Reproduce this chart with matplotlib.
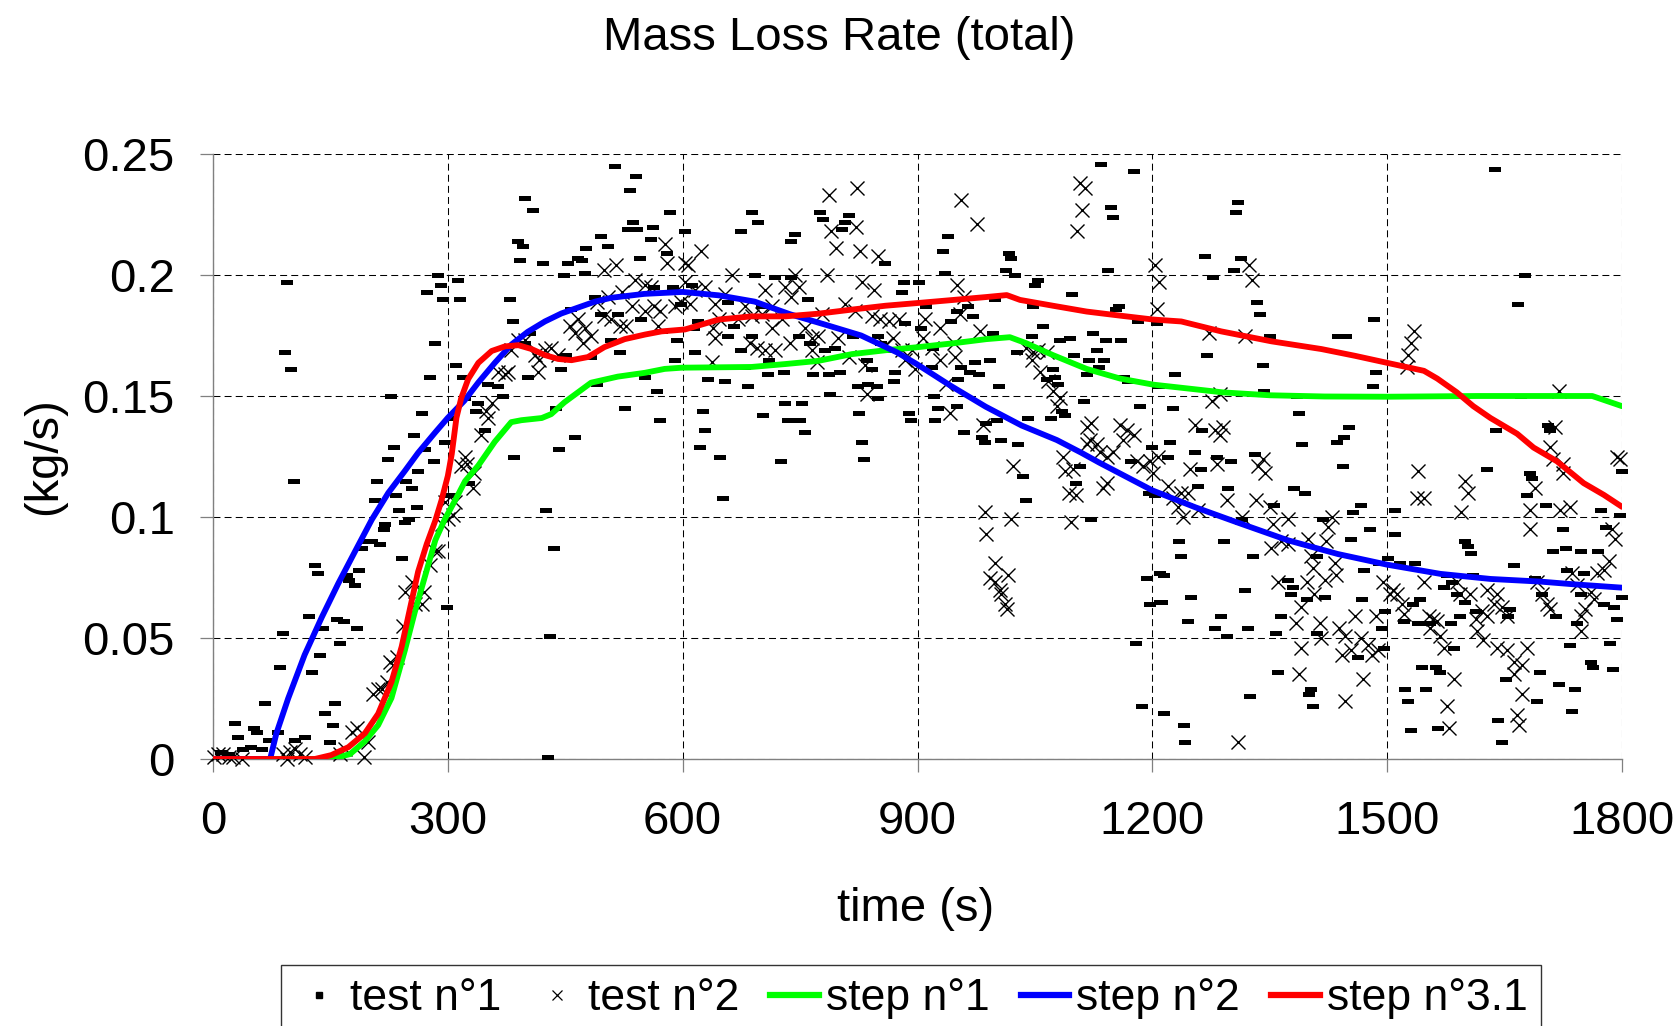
import matplotlib
matplotlib.use("Agg")
import matplotlib.pyplot as plt
from matplotlib.lines import Line2D

plt.rcParams['font.family'] = ['Liberation Sans', 'DejaVu Sans']
plt.rcParams['lines.scale_dashes'] = False

# ---------------- data ----------------
title = "Mass Loss Rate (total)"
x_label = "time (s)"
y_label = "(kg/s)"
x_ticks = [0, 300, 600, 900, 1200, 1500, 1800]
y_ticks = [0, 0.05, 0.1, 0.15, 0.2, 0.25]
y_tick_labels = ["0", "0.05", "0.1", "0.15", "0.2", "0.25"]
series_names = ["test n°1", "test n°2", "step n°1", "step n°2", "step n°3.1"]

test1_t = [10, 20, 38,
    95, 92, 100, 103, 89, 86, 66, 28, 32, 52, 56, 49, 62, 72, 83, 105, 117, 150, 153, 143, 156, 126, 137, 123, 140,
    159, 167, 162, 184, 130, 134, 171, 174, 187, 181, 190, 203, 213, 194, 218, 220, 241, 207, 210, 223, 231, 234,
    238, 245, 250, 247, 254, 261, 262, 271, 282, 257, 267, 296, 228, 277, 284, 274, 287, 291, 294, 299, 301,
    513, 540, 533, 398, 409, 389, 396, 392, 421, 454, 466, 471, 477, 496, 504, 475, 448, 536, 530, 542, 562, 559,
    584, 603, 546, 580, 313, 316, 379, 383, 405, 457, 488, 310, 320, 322, 305, 339, 336, 347, 351, 364, 370, 402,
    445, 483, 520, 509, 574, 593, 590, 552, 567, 490, 526, 571, 438, 462, 442, 385, 327, 305, 425, 436, 431, 428,
    398, 451, 496, 517, 547, 564, 588, 598,
    603, 689, 696, 674, 744, 738, 776, 779, 812, 807, 804, 858, 692, 718, 739, 760, 883, 902, 880, 612, 620, 658,
    658, 616, 614, 665, 675, 688, 701, 710, 748, 763, 782, 795, 818, 835, 850, 854, 867, 884, 905, 667, 680, 632,
    654, 683, 709, 729, 766, 787, 801, 837, 848, 824, 842, 871, 870, 849, 788, 626, 629, 622, 648, 651, 702, 731,
    753, 734, 750, 756, 725, 825, 829, 832, 889, 892,
    1135, 1176, 1147, 1150, 1144, 939, 933, 935, 1017, 1020, 1013, 1024, 1054, 1050, 1098, 999, 911, 964, 971, 950,
    943, 1048, 1153, 1157, 1182, 1206, 1060, 1046, 996, 1082, 1095, 1100, 1124, 1141, 1160, 1129, 1138, 1119, 1132,
    1027, 992, 973, 956, 967, 979, 952, 918, 920, 1004, 1073, 1076, 1079, 1065, 1116, 1164, 1169, 1209, 921, 926,
    922, 950, 1113, 1184, 1070, 1085, 1089, 1041, 987, 1001, 960, 982, 986, 1007, 1029, 1035, 1038, 1107, 1103,
    1122, 1200, 1173, 1196, 1203, 1193, 1197, 1210, 1210, 1179, 1187, 1215,
    1310, 1307, 1267, 1277, 1313, 1304, 1334, 1337, 1350, 1270, 1229, 1342, 1343, 1437, 1448, 1483, 1486, 1482,
    1385, 1388, 1227, 1223, 1220, 1255, 1264, 1282, 1301, 1331, 1262, 1258, 1297, 1381, 1395, 1391, 1436, 1445,
    1451, 1443, 1355, 1315, 1292, 1329, 1234, 1237, 1215, 1212, 1249, 1245, 1288, 1280, 1295, 1322, 1319, 1365,
    1358, 1373, 1380, 1377, 1397, 1411, 1420, 1410, 1418, 1456, 1466, 1478, 1454, 1471, 1468, 1497, 1493, 1463,
    1496, 1361, 1325, 1403, 1400, 1405, 1240, 1242, 1510, 1510, 1501, 1490,
    1638, 1676, 1667, 1671, 1639, 1708, 1706, 1628, 1683, 1685, 1800, 1679, 1703, 1773, 1797, 1725, 1779, 1599,
    1603, 1607, 1712, 1728, 1748, 1769, 1517, 1536, 1662, 1730, 1751, 1576, 1610, 1689, 1583, 1572, 1589, 1542,
    1533, 1600, 1698, 1747, 1777, 1790, 1794, 1657, 1655, 1613, 1593, 1582, 1521, 1539, 1555, 1716, 1743, 1734,
    1785, 1586, 1545, 1562, 1568, 1760, 1763, 1788, 1695, 1652, 1523, 1550, 1527, 1719, 1740, 1691, 1736, 1530,
    1565, 1642, 1647, 1800]
test1_v = [0.003, 0.002, 0.004,
    0.197, 0.168, 0.161, 0.115, 0.052, 0.038, 0.023, 0.015, 0.009, 0.013, 0.011, 0.005, 0.004, 0.008, 0.011, 0.008,
    0.009, 0.007, 0.014, 0.019, 0.023, 0.036, 0.043, 0.059, 0.054, 0.058, 0.057, 0.048, 0.054, 0.080, 0.077, 0.076,
    0.074, 0.078, 0.072, 0.087, 0.090, 0.089, 0.090, 0.095, 0.097, 0.083, 0.107, 0.115, 0.124, 0.129, 0.109, 0.103,
    0.098, 0.099, 0.115, 0.112, 0.104, 0.119, 0.128, 0.123, 0.134, 0.143, 0.131, 0.150, 0.158, 0.172, 0.193, 0.200,
    0.196, 0.190, 0.063, 0.109,
    0.245, 0.241, 0.235, 0.232, 0.227, 0.214, 0.212, 0.206, 0.205, 0.205, 0.207, 0.206, 0.211, 0.216, 0.212, 0.201,
    0.200, 0.222, 0.219, 0.219, 0.220, 0.215, 0.226, 0.218, 0.207, 0.209, 0.198, 0.190, 0.190, 0.181, 0.176, 0.186,
    0.191, 0.163, 0.158, 0.149, 0.141, 0.147, 0.144, 0.136, 0.155, 0.154, 0.150, 0.158, 0.161, 0.166, 0.168, 0.173,
    0.177, 0.173, 0.165, 0.158, 0.152, 0.155, 0.145, 0.140, 0.145, 0.133, 0.128, 0.125, 0.114, 0.109, 0.103, 0.087,
    0.051, 0.001, 0.172, 0.167, 0.184, 0.184, 0.182, 0.195, 0.195, 0.188,
    0.218, 0.226, 0.222, 0.218, 0.217, 0.214, 0.226, 0.223, 0.225, 0.222, 0.219, 0.205, 0.200, 0.199, 0.199, 0.190,
    0.197, 0.197, 0.193, 0.196, 0.181, 0.189, 0.175, 0.168, 0.178, 0.179, 0.169, 0.175, 0.187, 0.165, 0.175, 0.172,
    0.169, 0.170, 0.175, 0.165, 0.175, 0.172, 0.169, 0.180, 0.178, 0.162, 0.162, 0.157, 0.156, 0.154, 0.159, 0.160,
    0.159, 0.159, 0.160, 0.155, 0.154, 0.154, 0.161, 0.160, 0.156, 0.149, 0.151, 0.144, 0.136, 0.129, 0.125, 0.108,
    0.142, 0.147, 0.147, 0.140, 0.140, 0.135, 0.123, 0.143, 0.131, 0.124, 0.143, 0.140,
    0.246, 0.243, 0.228, 0.224, 0.202, 0.216, 0.210, 0.201, 0.209, 0.207, 0.202, 0.200, 0.198, 0.196, 0.192, 0.190,
    0.187, 0.187, 0.183, 0.185, 0.181, 0.187, 0.186, 0.187, 0.181, 0.180, 0.179, 0.175, 0.176, 0.173, 0.174, 0.167,
    0.176, 0.173, 0.173, 0.169, 0.165, 0.165, 0.162, 0.168, 0.165, 0.164, 0.162, 0.160, 0.159, 0.157, 0.162, 0.170,
    0.154, 0.161, 0.158, 0.155, 0.157, 0.159, 0.158, 0.156, 0.154, 0.150, 0.145, 0.140, 0.146, 0.148, 0.146, 0.141,
    0.144, 0.142, 0.141, 0.139, 0.140, 0.135, 0.133, 0.131, 0.132, 0.130, 0.117, 0.107, 0.121, 0.114, 0.099, 0.129,
    0.123, 0.110, 0.109, 0.075, 0.064, 0.077, 0.065, 0.048, 0.022, 0.019,
    0.230, 0.226, 0.208, 0.199, 0.207, 0.202, 0.189, 0.184, 0.175, 0.167, 0.159, 0.163, 0.152, 0.175, 0.175, 0.182,
    0.160, 0.154, 0.150, 0.143, 0.145, 0.131, 0.125, 0.127, 0.136, 0.125, 0.123, 0.126, 0.120, 0.113, 0.112, 0.112,
    0.110, 0.130, 0.131, 0.133, 0.137, 0.121, 0.105, 0.099, 0.090, 0.084, 0.090, 0.084, 0.076, 0.065, 0.067, 0.057,
    0.059, 0.054, 0.051, 0.054, 0.070, 0.059, 0.052, 0.074, 0.071, 0.068, 0.066, 0.084, 0.067, 0.052, 0.099, 0.102,
    0.105, 0.095, 0.091, 0.078, 0.066, 0.061, 0.054, 0.042, 0.046, 0.036, 0.026, 0.029, 0.027, 0.022, 0.014, 0.007,
    0.103, 0.093, 0.083, 0.081,
    0.244, 0.200, 0.188, 0.150, 0.136, 0.136, 0.138, 0.120, 0.118, 0.116, 0.119, 0.109, 0.105, 0.103, 0.101, 0.095,
    0.096, 0.090, 0.088, 0.085, 0.086, 0.087, 0.086, 0.086, 0.081, 0.081, 0.080, 0.078, 0.077, 0.076, 0.076, 0.075,
    0.073, 0.071, 0.068, 0.066, 0.064, 0.065, 0.068, 0.068, 0.064, 0.063, 0.058, 0.062, 0.059, 0.061, 0.059, 0.056,
    0.057, 0.056, 0.056, 0.059, 0.056, 0.047, 0.048, 0.046, 0.038, 0.038, 0.036, 0.040, 0.038, 0.037, 0.036, 0.033,
    0.029, 0.029, 0.024, 0.031, 0.029, 0.024, 0.020, 0.012, 0.013, 0.016, 0.007, 0.067]

test2_t = [1, 7, 13, 20, 26, 37, 90, 98, 105, 111, 118, 94, 162, 169, 177, 184, 193, 198, 205, 211, 216, 222, 226,
    235, 230, 243, 245, 254, 258, 267, 269, 277, 284, 288, 293, 296, 300,
    500, 515, 577, 580, 603, 539, 552, 560, 603, 522, 505, 490, 466, 456, 462, 475, 483, 473, 500, 509, 520, 528,
    535, 552, 564, 571, 590, 598, 569, 390, 398, 381, 411, 417, 424, 432, 441, 415, 364, 373, 377, 356, 349, 351,
    343, 322, 324, 317, 334, 332, 309, 307,
    787, 823, 790, 796, 821, 827, 849, 623, 607, 785, 829, 844, 663, 744, 705, 731, 748, 739, 654, 616, 629, 609,
    641, 680, 714, 671, 688, 646, 639, 641, 701, 727, 714, 737, 686, 695, 705, 718, 756, 765, 773, 778, 807, 820,
    799, 812, 765, 771, 842, 852, 863, 876, 859, 869, 880, 893, 884, 897, 833, 637, 835, 910,
    956, 976, 1107, 1114, 1110, 1104, 1203, 1209, 1206, 951, 960, 954, 929, 980, 907, 918, 929, 946, 948, 937,
    941, 984, 1039, 1048, 1054, 1065, 1046, 1056, 1067, 1073, 1082, 1078, 1116, 1122, 1120, 1129, 1133, 1116,
    1142, 1150, 1159, 1167, 1163, 1176, 1180, 1188, 1197, 1201, 1086, 1088, 1099, 1093, 1103, 1142, 1137, 1096,
    1022, 1020, 986, 988, 999, 992, 999, 1005, 1016, 1012, 1014, 1007,
    1324, 1327, 1272, 1318, 1286, 1276, 1254, 1280, 1290, 1286, 1341, 1344, 1335, 1248, 1282, 1207, 1220, 1226,
    1237, 1246, 1233, 1239, 1258, 1295, 1333, 1350, 1314, 1354, 1373, 1365, 1373, 1352, 1399, 1422, 1429, 1424,
    1403, 1405, 1433, 1435, 1420, 1361, 1397, 1407, 1390, 1384, 1390, 1414, 1416, 1388, 1439, 1446, 1442, 1454,
    1459, 1467, 1476, 1480, 1488, 1486, 1495, 1503, 1469, 1446, 1310,
    1534, 1530, 1527, 1525, 1719, 1715, 1708, 1712, 1725, 1725, 1539, 1600, 1603, 1538, 1547, 1594, 1689, 1683,
    1682, 1734, 1721, 1794, 1798, 1787, 1791, 1783, 1777, 1768, 1736, 1743, 1760, 1764, 1753, 1747, 1747, 1691,
    1698, 1704, 1708, 1547, 1508, 1513, 1519, 1521, 1589, 1593, 1606, 1628, 1640, 1647, 1653, 1636, 1621, 1628,
    1613, 1615, 1623, 1553, 1559, 1564, 1555, 1568, 1572, 1640, 1653, 1679, 1662, 1672, 1662, 1585, 1672, 1576,
    1579, 1666, 1668]
test2_v = [0.001, 0.002, 0.002, 0.001, 0.001, 0.000, 0.002, 0.003, 0.004, 0.002, 0.001, 0.000, 0.002, 0.004, 0.011,
    0.013, 0.001, 0.007, 0.027, 0.029, 0.029, 0.032, 0.040, 0.042, 0.039, 0.055, 0.069, 0.073, 0.064, 0.064, 0.069,
    0.080, 0.086, 0.086, 0.097, 0.106, 0.099,
    0.202, 0.204, 0.213, 0.205, 0.205, 0.198, 0.196, 0.195, 0.197, 0.193, 0.191, 0.189, 0.182, 0.179, 0.176, 0.178,
    0.175, 0.172, 0.183, 0.182, 0.179, 0.179, 0.187, 0.185, 0.187, 0.185, 0.187, 0.189, 0.179, 0.173, 0.173, 0.169,
    0.167, 0.165, 0.169, 0.170, 0.167, 0.160, 0.160, 0.159, 0.160, 0.147, 0.144, 0.141, 0.134, 0.125, 0.122, 0.121,
    0.118, 0.112, 0.106, 0.101,
    0.233, 0.236, 0.218, 0.211, 0.220, 0.210, 0.208, 0.210, 0.204, 0.200, 0.197, 0.194, 0.200, 0.200, 0.194, 0.195,
    0.195, 0.191, 0.192, 0.194, 0.195, 0.188, 0.188, 0.187, 0.187, 0.182, 0.183, 0.182, 0.178, 0.174, 0.184, 0.182,
    0.178, 0.172, 0.172, 0.170, 0.169, 0.169, 0.178, 0.174, 0.175, 0.184, 0.188, 0.185, 0.174, 0.166, 0.169, 0.164,
    0.183, 0.182, 0.181, 0.182, 0.171, 0.174, 0.169, 0.169, 0.165, 0.161, 0.163, 0.164, 0.151, 0.182,
    0.231, 0.221, 0.238, 0.236, 0.227, 0.218, 0.204, 0.197, 0.186, 0.196, 0.191, 0.184, 0.178, 0.177, 0.174, 0.170,
    0.165, 0.172, 0.166, 0.155, 0.143, 0.138, 0.170, 0.168, 0.169, 0.168, 0.165, 0.160, 0.156, 0.152, 0.149, 0.146,
    0.137, 0.139, 0.132, 0.130, 0.127, 0.130, 0.125, 0.127, 0.138, 0.136, 0.132, 0.134, 0.123, 0.121, 0.123, 0.118,
    0.125, 0.119, 0.120, 0.110, 0.109, 0.114, 0.112, 0.098, 0.121, 0.099, 0.102, 0.093, 0.081, 0.075, 0.073, 0.070,
    0.076, 0.064, 0.062, 0.068,
    0.204, 0.198, 0.176, 0.175, 0.151, 0.148, 0.138, 0.136, 0.137, 0.134, 0.124, 0.118, 0.121, 0.120, 0.122, 0.125,
    0.113, 0.108, 0.110, 0.110, 0.104, 0.100, 0.103, 0.107, 0.107, 0.104, 0.100, 0.097, 0.099, 0.090, 0.089, 0.087,
    0.091, 0.090, 0.100, 0.096, 0.084, 0.079, 0.081, 0.076, 0.074, 0.073, 0.073, 0.068, 0.063, 0.056, 0.046, 0.056,
    0.050, 0.035, 0.054, 0.051, 0.043, 0.045, 0.059, 0.050, 0.047, 0.043, 0.045, 0.059, 0.073, 0.068, 0.033, 0.024,
    0.007,
    0.177, 0.172, 0.167, 0.162, 0.152, 0.137, 0.129, 0.124, 0.122, 0.118, 0.119, 0.115, 0.110, 0.108, 0.108, 0.102,
    0.112, 0.103, 0.095, 0.104, 0.103, 0.125, 0.124, 0.095, 0.091, 0.082, 0.078, 0.077, 0.077, 0.072, 0.069, 0.066,
    0.062, 0.059, 0.053, 0.073, 0.068, 0.064, 0.062, 0.073, 0.070, 0.068, 0.064, 0.060, 0.073, 0.068, 0.068, 0.070,
    0.068, 0.063, 0.059, 0.064, 0.061, 0.059, 0.058, 0.053, 0.049, 0.059, 0.058, 0.057, 0.054, 0.051, 0.046, 0.046,
    0.045, 0.046, 0.040, 0.039, 0.035, 0.033, 0.027, 0.022, 0.013, 0.018, 0.014]

step1_t = [0, 150, 175, 194, 211, 228, 245, 258, 271, 284, 296, 309, 322, 339, 360, 381, 394, 420, 432, 449, 483,
    517, 552, 577, 599, 688, 731, 773, 816, 859, 901, 946, 988, 1018, 1039, 1073, 1116, 1159, 1201, 1290, 1350,
    1420, 1500, 1615, 1762, 1800]
step1_v = [0, 0, 0.002, 0.0073, 0.014, 0.0252, 0.0448, 0.061, 0.0757, 0.0904, 0.099, 0.1067, 0.1148, 0.1213, 0.1311,
    0.1392, 0.140, 0.1409, 0.1425, 0.1474, 0.1555, 0.158, 0.1596, 0.1612, 0.1617, 0.162, 0.1632, 0.1645, 0.1673,
    0.1689, 0.1702, 0.1718, 0.1735, 0.1743, 0.1718, 0.1669, 0.1612, 0.1572, 0.1547, 0.1515, 0.1503, 0.1498, 0.1497,
    0.150, 0.150, 0.1458]

step2_t = [0, 73, 81, 96, 117, 139, 160, 181, 203, 224, 245, 262, 284, 300, 321, 339, 360, 381, 402, 424, 445, 466,
    488, 509, 551, 600, 646, 692, 737, 783, 828, 874, 900, 942, 987, 1033, 1078, 1109, 1132, 1200, 1255, 1309,
    1373, 1437, 1500, 1568, 1632, 1696, 1738, 1800]
step2_v = [0, 0, 0.0106, 0.025, 0.043, 0.0586, 0.0725, 0.0855, 0.099, 0.110, 0.119, 0.1265, 0.1350, 0.141, 0.148,
    0.1556, 0.1637, 0.1712, 0.1765, 0.1808, 0.1841, 0.1865, 0.189, 0.1906, 0.1922, 0.193, 0.1916, 0.189, 0.1838,
    0.1794, 0.175, 0.168, 0.163, 0.1543, 0.1456, 0.1378, 0.1318, 0.1266, 0.1225, 0.111, 0.104, 0.0977, 0.0904,
    0.0847, 0.0803, 0.0765, 0.0744, 0.0733, 0.0722, 0.0708]

step3_t = [0, 130, 151, 173, 194, 211, 228, 241, 252, 262, 273, 284, 292, 300, 305, 311, 317, 326, 339, 356, 373,
    390, 407, 424, 441, 458, 479, 500, 526, 552, 573, 603, 646, 688, 731, 773, 816, 859, 903, 946, 988, 1014, 1031,
    1073, 1116, 1159, 1201, 1237, 1288, 1352, 1416, 1459, 1500, 1547, 1564, 1589, 1610, 1632, 1666, 1687, 1717,
    1751, 1777, 1800]
step3_v = [0, 0, 0.0016, 0.0049, 0.0106, 0.0187, 0.0318, 0.0464, 0.0627, 0.0774, 0.0888, 0.0985, 0.107, 0.117,
    0.126, 0.141, 0.149, 0.157, 0.1637, 0.1686, 0.1705, 0.171, 0.1694, 0.1669, 0.1653, 0.1648, 0.1661, 0.1702,
    0.1735, 0.1754, 0.1767, 0.1775, 0.1816, 0.1829, 0.1829, 0.184, 0.1857, 0.1873, 0.1885, 0.1897, 0.1909, 0.1917,
    0.1897, 0.1873, 0.1849, 0.1832, 0.1816, 0.1808, 0.1767, 0.1726, 0.1694, 0.1666, 0.1637, 0.1604, 0.1572, 0.1515,
    0.1458, 0.1409, 0.1344, 0.1287, 0.123, 0.114, 0.1091, 0.1042]

line_colors = ["#00FF00", "#0000FF", "#FF0000"]

# ---------------- figure ----------------
W, H = 1679, 1026
fig = plt.figure(figsize=(W / 100, H / 100), dpi=100)
ax = fig.add_axes([213 / W, 1 - 759 / H, 1409 / W, 605 / H])

dash_marker = [(-1, -0.45), (1, -0.45), (1, 0.45), (-1, 0.45), (-1, -0.45)]
ax.plot(test1_t, test1_v, ls='none', marker=dash_marker, ms=8.0, mfc='black', mec='black', mew=0,
        clip_on=False, zorder=3)
ax.plot(test2_t, test2_v, ls='none', marker='x', ms=10, mec='black', mew=1.0, clip_on=False, zorder=3)
ax.plot(step1_t, step1_v, color=line_colors[0], lw=4.2, solid_capstyle='round', solid_joinstyle='round', zorder=4)
ax.plot(step2_t, step2_v, color=line_colors[1], lw=4.2, solid_capstyle='round', solid_joinstyle='round', zorder=4)
ax.plot(step3_t, step3_v, color=line_colors[2], lw=4.2, solid_capstyle='round', solid_joinstyle='round', zorder=4)

ax.set_xlim(0, 1800)
ax.set_ylim(0, 0.25)
ax.set_xticks(x_ticks)
ax.set_xticklabels([str(v) for v in x_ticks])
ax.set_yticks(y_ticks)
ax.set_yticklabels(y_tick_labels)
ax.tick_params(axis='both', direction='out', length=9.5, width=0.9, color='#808080',
               labelsize=34, labelcolor='black')
ax.tick_params(axis='x', pad=20)
ax.tick_params(axis='y', pad=18)
ax.grid(True, color='black', lw=0.75, ls=(0, (5, 3)))
ax.set_axisbelow(True)
for s in ['top', 'right']:
    ax.spines[s].set_visible(False)
for s in ['left', 'bottom']:
    ax.spines[s].set_color('#808080')
    ax.spines[s].set_linewidth(1.0)

fig.text(0.5, 1 - 50 / H, title, ha='center', va='baseline', fontsize=34)
fig.text(916 / W, 1 - 921 / H, x_label, ha='center', va='baseline', fontsize=34)
fig.text(44 / W, 1 - 456 / H, y_label, ha='center', va='center', rotation=90, fontsize=34)

handles = [
    Line2D([], [], ls='none', marker='s', ms=4, mfc='black', mec='black'),
    Line2D([], [], ls='none', marker='x', ms=7, mec='black', mew=0.9),
    Line2D([], [], color=line_colors[0], lw=4.5),
    Line2D([], [], color=line_colors[1], lw=4.5),
    Line2D([], [], color=line_colors[2], lw=4.5),
]
leg = fig.legend(handles, series_names, loc='upper left', bbox_to_anchor=(281 / W, 1 - 965 / H),
                 ncol=5, fontsize=32, frameon=True, fancybox=False, edgecolor='black',
                 borderaxespad=0, borderpad=0.3, handlelength=1.1, handletextpad=0.15,
                 columnspacing=0.7)
leg.get_frame().set_linewidth(1.0)

fig.savefig("out.png", dpi=100)
